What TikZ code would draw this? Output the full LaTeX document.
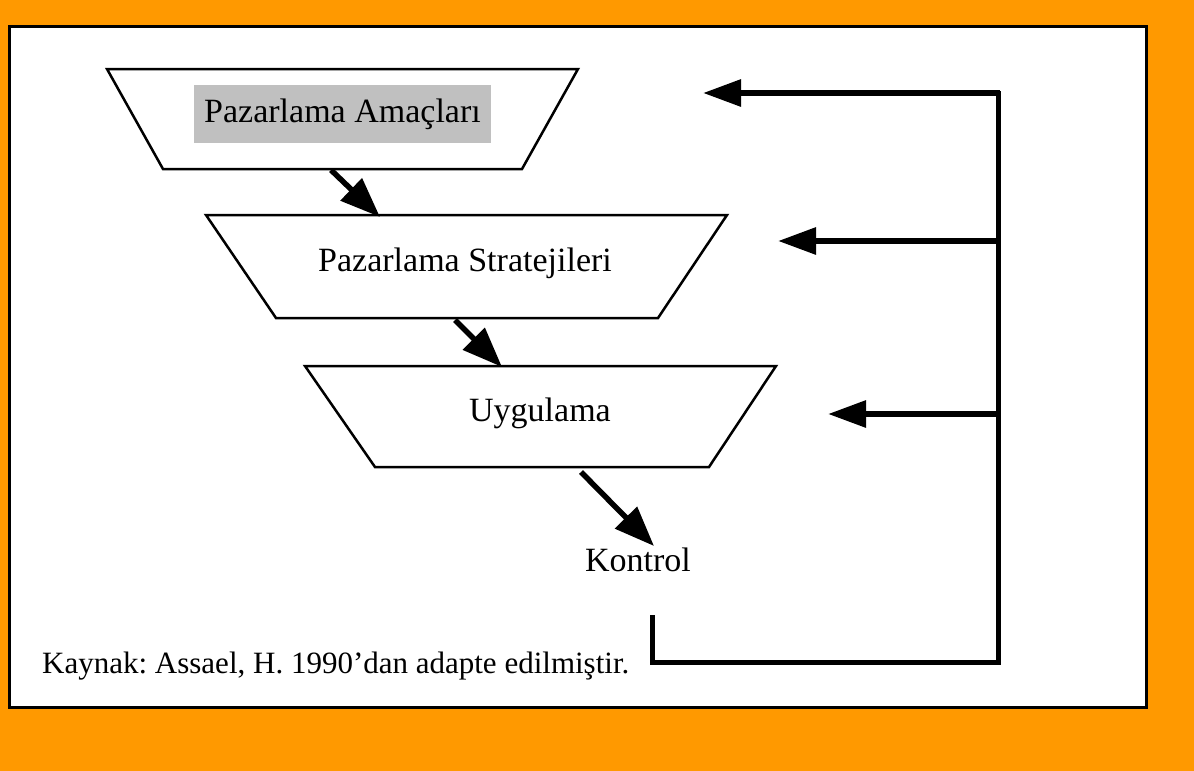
\documentclass[tikz,border=0pt]{standalone}
\usepackage{fontspec}
\setmainfont{Liberation Serif}
\usetikzlibrary{arrows.meta}
\definecolor{bgorange}{RGB}{255,153,0}
\definecolor{boxgray}{RGB}{192,192,192}
\frenchspacing
\tikzset{
  trap/.style={draw=black, line width=2.5pt, line join=miter},
  lbl/.style={inner sep=0pt, font=\fontsize{34}{40}\selectfont},
  flow/.style={line width=5.5pt, -{Triangle[length=40pt,width=30pt]}},
  fb/.style={line width=6pt, -{Triangle[length=38pt,width=26pt]}},
  loop/.style={line width=5pt, line join=miter}
}
\begin{document}
\begin{tikzpicture}[x=1pt,y=-1pt]
\useasboundingbox (0,0) rectangle (1194,771);
\fill[bgorange] (0,0) rectangle (1194,771);
\draw[line width=3pt, fill=white] (9,26) rectangle (1146,707);

% trapezoids
\draw[trap] (107,69) -- (578,69) -- (522,169) -- (163,169) -- cycle;
\draw[trap] (206,215) -- (727,215) -- (658,318) -- (276,318) -- cycle;
\draw[trap] (305,366) -- (776,366) -- (709,467) -- (375,467) -- cycle;

% labels
\fill[boxgray] (194,85) rectangle (491,143);
\node[lbl] (amac) at (342.5,114) {Pazarlama Amaçları};
\node[lbl] (strat) at (465,263) {Pazarlama Stratejileri};
\node[lbl] (uyg) at (540,413) {Uygulama};
\node[lbl] (kontrol) at (638,560) {Kontrol};
\node[inner sep=0pt, font=\fontsize{31}{36}\selectfont, anchor=west] (kaynak) at (42,666) {Kaynak: Assael, H. 1990’dan adapte edilmiştir.};

% connector coordinates
\coordinate (a1s) at (331,170);
\coordinate (a1e) at (380,217);
\coordinate (a2s) at (455,320);
\coordinate (a2e) at (502,367);
\coordinate (a3s) at (581,472);
\coordinate (a3e) at (654,546);
\draw[flow] (a1s) -- (a1e);
\draw[flow] (a2s) -- (a2e);
\draw[flow] (a3s) -- (a3e);

% feedback loop
\coordinate (k0) at (652,615);
\coordinate (k1) at (652,662);
\coordinate (r0) at (998,662);
\coordinate (r1) at (998,91);
\draw[loop] (k0) -- (k1) -- (r0) -- (r1);
\coordinate (f1s) at (1000,93);
\coordinate (f1e) at (703,93);
\coordinate (f2s) at (1000,241);
\coordinate (f2e) at (778,241);
\coordinate (f3s) at (1000,414);
\coordinate (f3e) at (828,414);
\draw[fb] (f1s) -- (f1e);
\draw[fb] (f2s) -- (f2e);
\draw[fb] (f3s) -- (f3e);
\end{tikzpicture}
\end{document}
